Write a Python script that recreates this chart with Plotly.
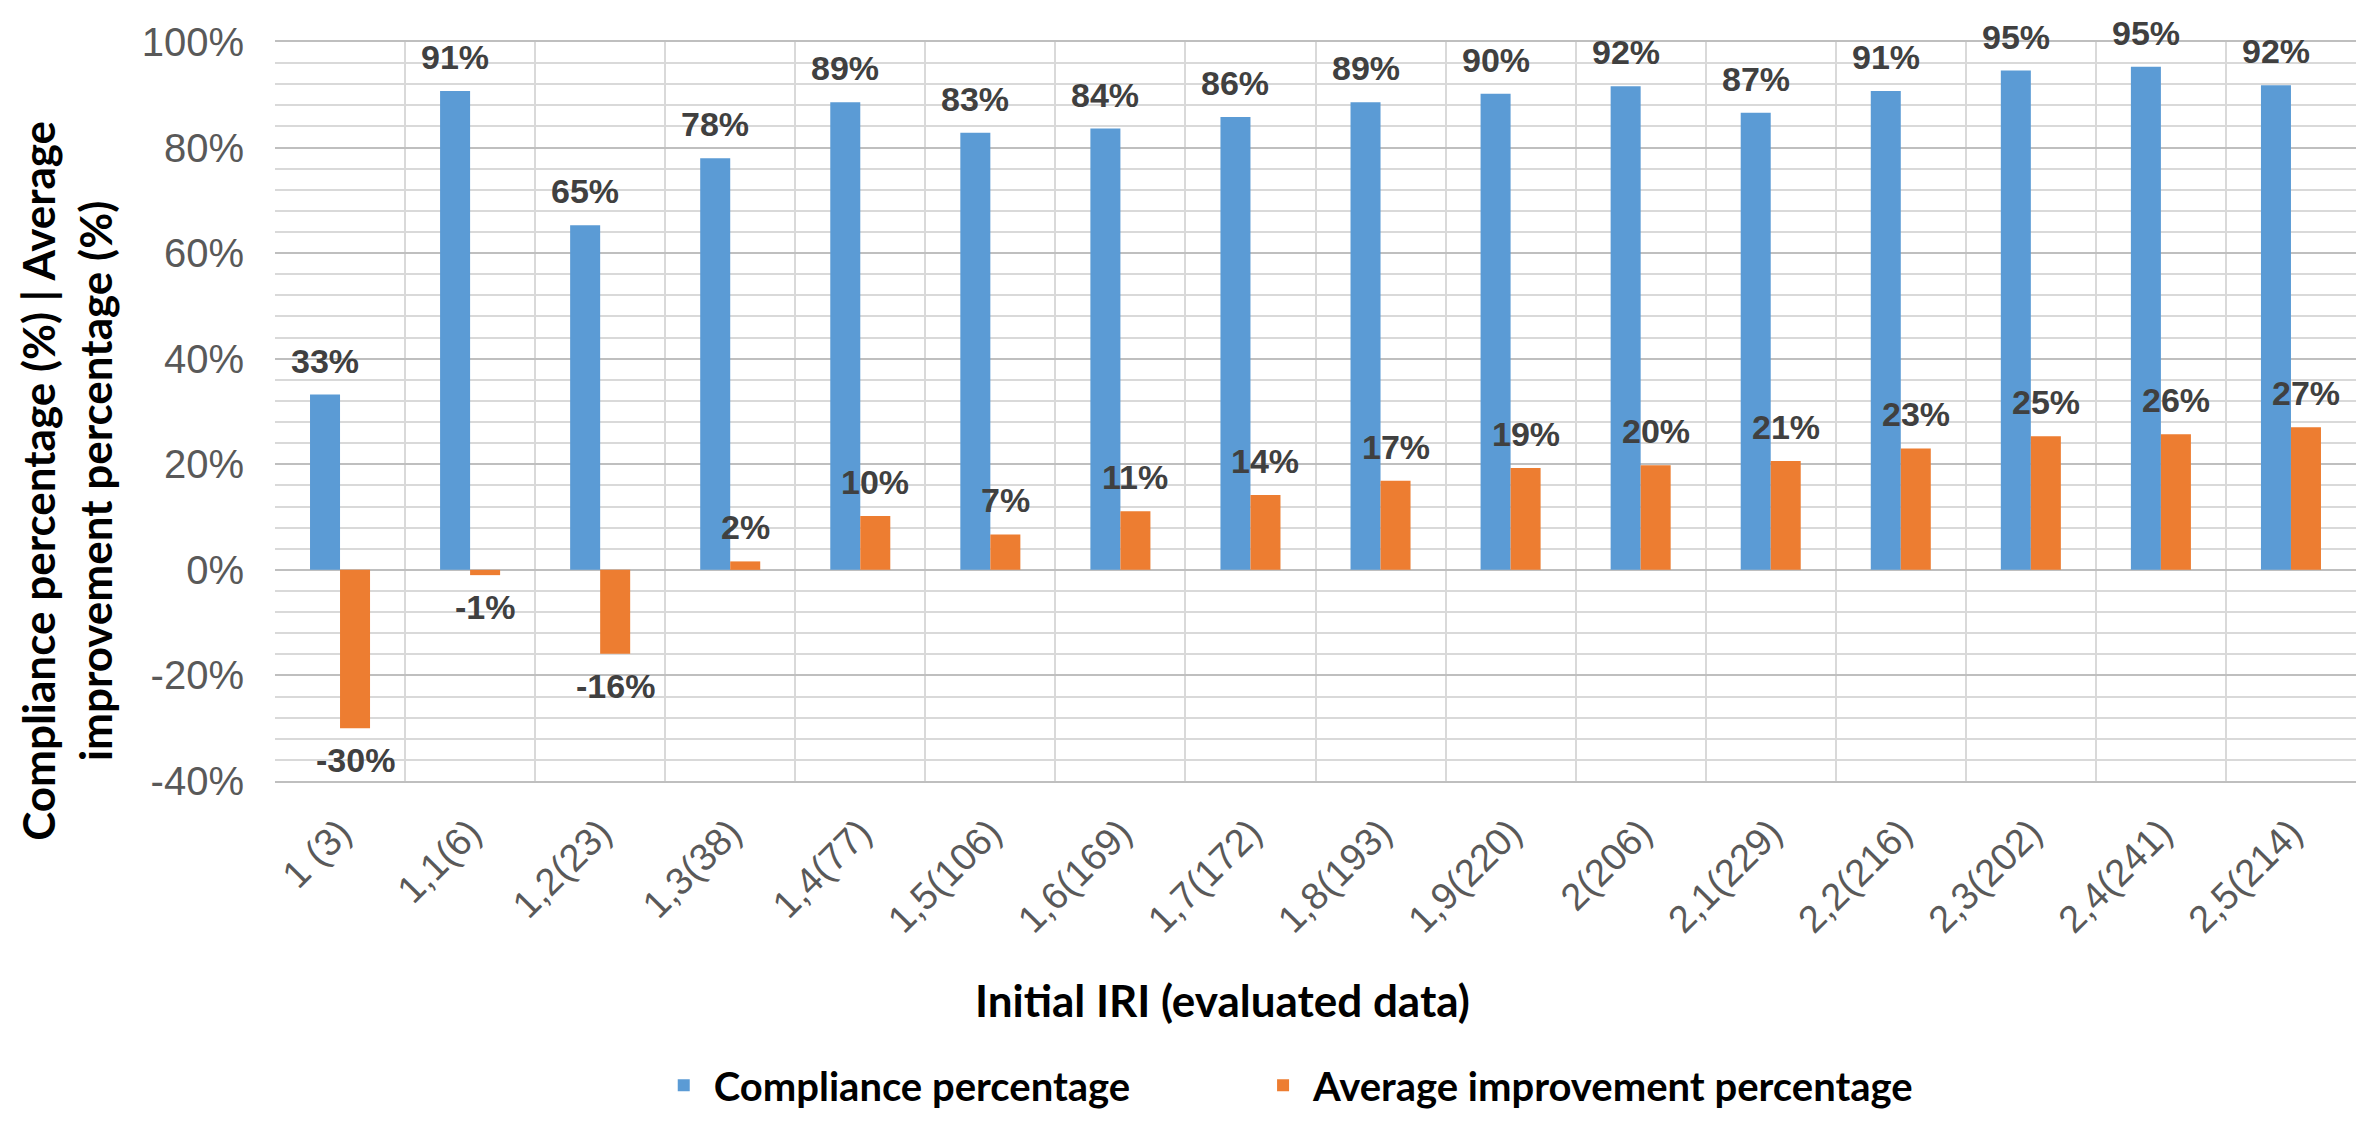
import plotly.graph_objects as go

categories = ["1 (3)", "1,1(6)", "1,2(23)", "1,3(38)", "1,4(77)", "1,5(106)", "1,6(169)",
              "1,7(172)", "1,8(193)", "1,9(220)", "2(206)", "2,1(229)", "2,2(216)",
              "2,3(202)", "2,4(241)", "2,5(214)"]
compliance = [33.2, 90.7, 65.3, 78.0, 88.6, 82.8, 83.6, 85.8, 88.6, 90.2, 91.6, 86.6,
              90.7, 94.6, 95.3, 91.8]
improvement = [-30.0, -1.0, -15.9, 1.6, 10.2, 6.7, 11.1, 14.2, 16.9, 19.3, 19.8, 20.6,
               23.0, 25.3, 25.7, 27.0]
y_ticks = [-40, -20, 0, 20, 40, 60, 80, 100]

BLUE = "#5B9BD5"
ORANGE = "#ED7D31"
TICK_FONT = "Liberation Sans, Arial, sans-serif"
TITLE_FONT = "Lato, Carlito, Calibri, sans-serif"

fig = go.Figure()
fig.add_trace(go.Bar(name="Compliance percentage", x=categories, y=compliance,
                     marker=dict(color=BLUE, line=dict(width=0)), legend="legend"))
fig.add_trace(go.Bar(name="Average improvement percentage", x=categories, y=improvement,
                     marker=dict(color=ORANGE, line=dict(width=0)), legend="legend2"))

annotations = []
label_font = dict(family=TICK_FONT, size=34, color="#404040", weight="bold")
for cat, v in zip(categories, compliance):
    annotations.append(dict(x=cat, y=v, xref="x", yref="y", text=f"{v:.0f}%",
                            showarrow=False, xshift=-15, yanchor="bottom", yshift=13,
                            font=label_font))
for cat, v in zip(categories, improvement):
    if v >= 0:
        annotations.append(dict(x=cat, y=v, xref="x", yref="y", text=f"{v:.0f}%",
                                showarrow=False, xshift=15, yanchor="bottom", yshift=13,
                                font=label_font))
    else:
        annotations.append(dict(x=cat, y=v, xref="x", yref="y", text=f"{v:.0f}%",
                                showarrow=False, xshift=15, yanchor="top", yshift=-11,
                                font=label_font))

annotations.append(dict(x=0.4555, y=-0.297, xref="paper", yref="paper",
                        text="Initial IRI (evaluated data)", showarrow=False,
                        xanchor="center", yanchor="middle",
                        font=dict(family=TITLE_FONT, size=44, color="#000000", weight="bold")))
annotations.append(dict(x=-0.1, y=0.406, xref="paper", yref="paper",
                        text="Compliance percentage (%) | Average<br>improvement percentage (%)",
                        showarrow=False, textangle=-90, align="center",
                        xanchor="center", yanchor="middle",
                        font=dict(family=TITLE_FONT, size=44, color="#000000", weight="bold")))

legend_font = dict(family=TITLE_FONT, size=40, color="#000000", weight="bold")

fig.update_layout(
    width=2366, height=1121,
    margin=dict(l=267, r=18, t=30, b=333),
    paper_bgcolor="white", plot_bgcolor="white",
    barmode="group", bargap=0.5385, bargroupgap=0,
    showlegend=True,
    legend=dict(orientation="h", x=0.182, xanchor="left", y=-0.4116, yanchor="middle",
                font=legend_font, itemwidth=50, bgcolor="rgba(0,0,0,0)"),
    legend2=dict(orientation="h", x=0.470, xanchor="left", y=-0.4116, yanchor="middle",
                 font=legend_font, itemwidth=50, bgcolor="rgba(0,0,0,0)"),
    annotations=annotations,
    xaxis=dict(type="category", tickson="boundaries", showgrid=True,
               gridcolor="#d9d9d9", gridwidth=2, tickangle=-45, ticks="",
               ticklabelstandoff=12,
               tickfont=dict(family=TICK_FONT, size=38, color="#595959"),
               showline=True, mirror=True, linecolor="#bfbfbf", linewidth=2),
    yaxis=dict(range=[-40, 100], tickmode="array", tickvals=y_ticks,
               ticktext=[f"{t}%" for t in y_ticks],
               showgrid=True, gridcolor="#bfbfbf", gridwidth=2,
               zeroline=True, zerolinecolor="#bfbfbf", zerolinewidth=2,
               ticks="", ticklabelstandoff=30,
               tickfont=dict(family=TICK_FONT, size=40, color="#595959"),
               minor=dict(tickmode="linear", tick0=0, dtick=4, showgrid=True,
                          gridcolor="#d9d9d9", gridwidth=2, ticks="")),
)

fig.write_html("out.html")
